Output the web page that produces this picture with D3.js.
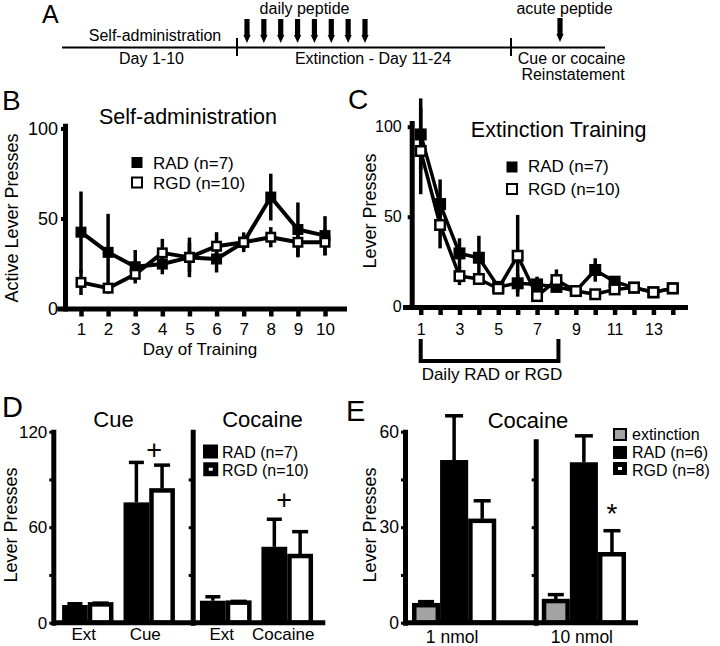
<!DOCTYPE html>
<html><head><meta charset="utf-8">
<script src="https://cdn.jsdelivr.net/npm/d3@7"></script>
<style>
body{margin:0;background:#fff;}
svg text{font-family:"Liberation Sans",Arial,sans-serif;fill:#000;}
</style></head><body>
<svg id="fig" width="720" height="646"></svg>
<script>
// ================= DATA =================
// Panel A (timeline)
const aDailyPeptideDays = [11, 12, 13, 14, 15, 16, 17, 18];
const aPhaseBounds = [0, 10, 24, 28];
const aTopTexts = ["Self-administration", "daily peptide", "acute peptide"];
const aBottomTexts = ["Day 1-10", "Extinction - Day 11-24", "Cue or cocaine", "Reinstatement"];

// Panel B (self-administration)
const bDays = [1, 2, 3, 4, 5, 6, 7, 8, 9, 10];
const bRAD = [42.4, 31.2, 23.2, 24.7, 28.4, 27.5, 36.8, 61.9, 43.9, 40.5];
const bRADsem = [22.6, 21.4, 9.3, 5.7, 8, 7.5, 4, 13, 15, 10.8];
const bRGD = [14.5, 11.3, 19, 30.9, 28.4, 34.6, 36.8, 39.6, 36.8, 36.8];
const bRGDsem = [7, 3, 3, 7.8, 11, 7.8, 5.5, 5.6, 8.4, 7.4];
const bYTicks = [0, 50, 100];

// Panel C (extinction)
const cDays = [1, 2, 3, 4, 5, 6, 7, 8, 9, 10, 11, 12, 13, 14];
const cRAD = [95.7, 57, 29.6, 27.2, 11, 13, 12.4, 11, 8.7, 20.4, 13.9, 10.6, 8, 10.2];
const cRADsem = [20, 13.7, 8.4, 12.2, 2, 5, 4.3, 2, 1.5, 6.5, 2, 1.5, 1.5, 2.5];
const cRGD = [86.5, 45.4, 17, 15.4, 10, 28.3, 5.9, 14.8, 8.7, 6.9, 9.6, 10.6, 8, 10.2];
const cRGDsem = [24, 13, 5, 3, 2, 22.7, 3, 5.9, 2, 2, 2, 2, 2, 3];
const cYTicks = [0, 50, 100];
const cTreatDays = [1, 8];

// Panel D (reinstatement)
const dPanels = ["Cue", "Cocaine"];
const dCueGroups = ["Ext", "Cue"];
const dCocGroups = ["Ext", "Cocaine"];
const dCueRAD = [11.1, 75.6], dCueRADsem = [0.8, 25.1];
const dCueRGD = [11.5, 83.1], dCueRGDsem = [0.8, 15.9];
const dCocRAD = [13.8, 47.7], dCocRADsem = [2.5, 17.3];
const dCocRGD = [12.6, 41.9], dCocRGDsem = [0.8, 15.3];
const dYTicks = [0, 30, 60, 90, 120];
const dYLabels = [0, 60, 120];
const dLegend = ["RAD (n=7)", "RGD (n=10)"];

// Panel E (acute peptide, cocaine)
const eGroups = ["1 nmol", "10 nmol"];
const eExt = [5.5, 6.8], eExtSem = [0.8, 1.7];
const eRAD = [51.1, 50.4], eRADsem = [13.9, 8.3];
const eRGD = [32, 21.5], eRGDsem = [6.3, 7.4];
const eYTicks = [0, 15, 30, 45, 60];
const eYLabels = [0, 30, 60];
const eLegend = ["extinction", "RAD (n=6)", "RGD (n=8)"];

const lineLegend = ["RAD (n=7)", "RGD (n=10)"];

// ================= DRAWING =================
const FONT = '"Liberation Sans", Arial, sans-serif';
const svg = d3.select("#fig");

function txt(g, s, x, y, size, anchor) {
  return g.append("text").attr("x", x).attr("y", y).attr("font-size", size)
    .attr("text-anchor", anchor || "start").text(s);
}
function styleAxis(sel, fs, dw, tw) {
  sel.attr("font-family", FONT).attr("font-size", fs);
  sel.select(".domain").attr("stroke", "#000").attr("stroke-width", dw).attr("stroke-linecap", "square");
  sel.selectAll(".tick line").attr("stroke", "#000").attr("stroke-width", tw);
  sel.selectAll(".tick text").attr("fill", "#000");
}
function vlabel(g, s, x, y, size) {
  g.append("text").attr("transform", `translate(${x},${y}) rotate(-90)`)
    .attr("font-size", size).attr("text-anchor", "middle").text(s);
}

// ---------- Panel A ----------
{
  const g = svg.append("g");
  const xA = d3.scaleLinear().domain(aPhaseBounds).range([62, 237, 511, 605]);
  g.append("line").attr("x1", xA(0)).attr("x2", xA(28)).attr("y1", 47.5).attr("y2", 47.5)
    .attr("stroke", "#000").attr("stroke-width", 2);
  g.selectAll(".pb").data(aPhaseBounds.slice(1, 3)).join("line")
    .attr("x1", d => xA(d)).attr("x2", d => xA(d)).attr("y1", 38).attr("y2", 56)
    .attr("stroke", "#000").attr("stroke-width", 2);
  const arrow = (x, y0, y1) => `M${x-2.6},${y0}L${x+2.6},${y0}L${x+2.6},${y1-8}L${x+3.6},${y1-8}L${x},${y1}L${x-3.6},${y1-8}L${x-2.6},${y1-8}Z`;
  const xArr = d3.scalePoint().domain(aDailyPeptideDays).range([247, 365]);
  g.selectAll(".arr").data(aDailyPeptideDays).join("path")
    .attr("d", d => arrow(xArr(d), 19, 43)).attr("fill", "#000");
  g.append("path").attr("d", arrow(560, 18, 42)).attr("fill", "#000");
  txt(g, "A", 42, 23, 25);
  txt(g, aTopTexts[0], 155, 40.5, 16, "middle");
  txt(g, aTopTexts[1], 304.5, 14, 16, "middle");
  txt(g, aTopTexts[2], 564.5, 14, 16, "middle");
  txt(g, aBottomTexts[0], 151.5, 63.5, 16, "middle");
  txt(g, aBottomTexts[1], 373, 63.5, 16, "middle");
  txt(g, aBottomTexts[2], 571.5, 63.5, 16, "middle");
  txt(g, aBottomTexts[3], 573, 79.5, 16, "middle");
}

function linePanel(g, x, y, days, series, lw, ms) {
  const line = d3.line().x((d, i) => x(days[i])).y(d => y(d));
  series.forEach(s => {
    g.append("path").datum(s.vals).attr("d", line).attr("fill", "none")
      .attr("stroke", "#000").attr("stroke-width", lw).attr("stroke-linejoin", "round");
  });
  series.forEach(s => {
    g.selectAll(null).data(s.vals).join("line")
      .attr("x1", (d, i) => x(days[i])).attr("x2", (d, i) => x(days[i]))
      .attr("y1", (d, i) => y(d - s.sem[i])).attr("y2", (d, i) => y(d + s.sem[i]))
      .attr("stroke", "#000").attr("stroke-width", 3.5);
  });
  series.forEach(s => {
    const sz = s.fill === "#000" ? ms : ms - 2.5;
    g.selectAll(null).data(s.vals).join("rect")
      .attr("x", (d, i) => x(days[i]) - sz / 2).attr("y", d => y(d) - sz / 2)
      .attr("width", sz).attr("height", sz)
      .attr("fill", s.fill).attr("stroke", "#000").attr("stroke-width", s.fill === "#000" ? 0 : 2.5);
  });
}
function lineLegendDraw(g, x, ys, tx, tys) {
  g.append("rect").attr("x", x - 5.5).attr("y", ys[0] - 5.5).attr("width", 11).attr("height", 11).attr("fill", "#000");
  g.append("rect").attr("x", x - 5).attr("y", ys[1] - 5).attr("width", 10).attr("height", 10)
    .attr("fill", "#fff").attr("stroke", "#000").attr("stroke-width", 2);
  txt(g, lineLegend[0], tx, tys[0], 17);
  txt(g, lineLegend[1], tx, tys[1], 17);
}

// ---------- Panel B ----------
{
  const g = svg.append("g");
  const x = d3.scaleLinear().domain([0.2, 10.7]).range([59.3, 344]);
  const y = d3.scaleLinear().domain([0, 101.5]).range([308.5, 125.8]);
  linePanel(g, x, y, bDays, [
    { vals: bRAD, sem: bRADsem, fill: "#000" },
    { vals: bRGD, sem: bRGDsem, fill: "#fff" }], 4, 11);
  const ax = g.append("g").attr("transform", "translate(0,308.5)")
    .call(d3.axisBottom(x).tickValues(bDays).tickSize(8).tickPadding(6.5).tickSizeOuter(0));
  styleAxis(ax, 17, 5, 4.5);
  const ay = g.append("g").attr("transform", "translate(65,0)")
    .call(d3.axisLeft(y).tickValues(bYTicks).tickSize(4).tickPadding(3).tickSizeOuter(0));
  styleAxis(ay, 18, 5, 4);
  txt(g, "B", 2, 110, 28);
  txt(g, "Self-administration", 188, 124, 21.5, "middle");
  txt(g, "Day of Training", 200, 355, 17, "middle");
  vlabel(g, "Active Lever Presses", 18, 218, 18);
  lineLegendDraw(g, 137, [162.5, 182.5], 153, [169, 189]);
}

// ---------- Panel C ----------
{
  const g = svg.append("g");
  const x = d3.scaleLinear().domain([0.19, 14.63]).range([405, 685]);
  const y = d3.scaleLinear().domain([0, 102]).range([306.7, 123.1]);
  linePanel(g, x, y, cDays, [
    { vals: cRAD, sem: cRADsem, fill: "#000" },
    { vals: cRGD, sem: cRGDsem, fill: "#fff" }], 3.5, 12);
  const ax = g.append("g").attr("transform", "translate(0,307)")
    .call(d3.axisBottom(x).tickValues(cDays).tickFormat(d => d % 2 ? d : "")
      .tickSize(8).tickPadding(8.5).tickSizeOuter(0));
  styleAxis(ax, 16, 5, 4.5);
  const ay = g.append("g").attr("transform", "translate(411.7,0)")
    .call(d3.axisLeft(y).tickValues(cYTicks).tickSize(4).tickPadding(6).tickSizeOuter(0));
  styleAxis(ay, 16, 5, 4);
  txt(g, "C", 348, 109, 28);
  txt(g, "Extinction Training", 558.7, 136.7, 21.5, "middle");
  vlabel(g, "Lever Presses", 375.5, 211, 18);
  lineLegendDraw(g, 512, [167, 189], 528, [172, 195]);
  // treatment bracket
  const bx0 = x(cTreatDays[0]), bx1 = x(cTreatDays[1]) + 2;
  g.append("path").attr("d", `M${bx0},339V361H${bx1}V339`).attr("fill", "none")
    .attr("stroke", "#000").attr("stroke-width", 4).attr("stroke-linejoin", "miter");
  txt(g, "Daily RAD or RGD", 492, 380, 17, "middle");
}

// ---------- bar helpers ----------
function errBar(g, cx, y0, y1, cap) {
  g.append("line").attr("x1", cx).attr("x2", cx).attr("y1", y0).attr("y2", y1)
    .attr("stroke", "#000").attr("stroke-width", 3.5);
  g.append("line").attr("x1", cx - cap / 2).attr("x2", cx + cap / 2).attr("y1", y1).attr("y2", y1)
    .attr("stroke", "#000").attr("stroke-width", 3.5);
}
function bar(g, x0, w, y, v, fill, outlined) {
  const sw = 4.5;
  if (outlined) {
    g.append("rect").attr("x", x0 + sw / 2).attr("width", w - sw).attr("y", y(v))
      .attr("height", y(0) - y(v)).attr("fill", fill).attr("stroke", "#000").attr("stroke-width", sw);
  } else {
    g.append("rect").attr("x", x0).attr("width", w).attr("y", y(v))
      .attr("height", y(0) - y(v)).attr("fill", fill);
  }
}

// ---------- Panel D ----------
{
  const g = svg.append("g");
  const y = d3.scaleLinear().domain([0, 120]).range([622.7, 431.7]);
  const subs = [
    { groups: dCueGroups, rad: dCueRAD, radS: dCueRADsem, rgd: dCueRGD, rgdS: dCueRGDsem,
      xs: d3.scaleBand().domain(dCueGroups).range([53.3, 183.7]).paddingInner(0.164).paddingOuter(0.143), ax: 53.3 },
    { groups: dCocGroups, rad: dCocRAD, radS: dCocRADsem, rgd: dCocRGD, rgdS: dCocRGDsem,
      xs: d3.scaleBand().domain(dCocGroups).range([192.7, 320.3]).paddingInner(0.16).paddingOuter(0.118), ax: 192.7 }
  ];
  subs.forEach((s, si) => {
    const inner = d3.scaleBand().domain(["RAD", "RGD"]).range([0, s.xs.bandwidth()]);
    s.groups.forEach((grp, i) => {
      const gx = s.xs(grp);
      bar(g, gx + inner("RAD"), inner.bandwidth(), y, s.rad[i], "#000", false);
      bar(g, gx + inner("RGD"), inner.bandwidth(), y, s.rgd[i], "#fff", true);
      errBar(g, gx + inner("RAD") + inner.bandwidth() / 2, y(s.rad[i]), y(s.rad[i] + s.radS[i]), 15);
      errBar(g, gx + inner("RGD") + inner.bandwidth() / 2, y(s.rgd[i]) - 2, y(s.rgd[i] + s.rgdS[i]), 16);
      txt(g, grp, gx + s.xs.bandwidth() / 2 - 4, 640, 17, "middle");
    });
    txt(g, dPanels[si], (s.xs.range()[0] + s.xs.range()[1]) / 2 + (si ? 6 : -5), 426.7, 22, "middle");
    const axl = g.append("g").attr("transform", `translate(${s.ax},0)`)
      .call(d3.axisLeft(y).tickValues(si ? dYTicks.slice(1, 4) : dYTicks)
        .tickFormat(d => (si === 0 && dYLabels.includes(d)) ? d : "")
        .tickSize(4).tickPadding(2).tickSizeOuter(0));
    styleAxis(axl, 17, 5, 3);
  });
  // x axis baseline
  g.append("line").attr("x1", 53.3).attr("x2", subs[1].xs.range()[1] + 5).attr("y1", y(0)).attr("y2", y(0))
    .attr("stroke", "#000").attr("stroke-width", 5);
  // significance marks
  const s0 = subs[0], s1 = subs[1];
  txt(g, "+", s0.xs("Cue") + s0.xs.bandwidth() / 2 + 5, y(109) + 9.5, 27, "middle");
  txt(g, "+", s1.xs("Cocaine") + s1.xs.bandwidth() / 2 - 3, y(77.7) + 9.5, 27, "middle");
  // legend
  g.append("rect").attr("x", 203).attr("y", 444.5).attr("width", 15).attr("height", 14).attr("fill", "#000");
  g.append("rect").attr("x", 206).attr("y", 465).attr("width", 9.5).attr("height", 8.5)
    .attr("fill", "#fff").attr("stroke", "#000").attr("stroke-width", 5.5);
  txt(g, dLegend[0], 222, 457.5, 16);
  txt(g, dLegend[1], 222, 475.5, 16);
  txt(g, "D", 2, 417, 29);
  vlabel(g, "Lever Presses", 17, 525, 18);
}

// ---------- Panel E ----------
{
  const g = svg.append("g");
  const y = d3.scaleLinear().domain([0, 60]).range([622.7, 431.7]);
  const xs = d3.scaleBand().domain(eGroups).range([405, 633]).paddingInner(0.351).paddingOuter(0.054);
  const inner = d3.scaleBand().domain(["ext", "RAD", "RGD"]).range([0, xs.bandwidth()]);
  eGroups.forEach((grp, i) => {
    const gx = xs(grp), bw = inner.bandwidth();
    bar(g, gx + inner("ext"), bw, y, eExt[i], "#a3a3a3", true);
    bar(g, gx + inner("RAD"), bw, y, eRAD[i], "#000", false);
    bar(g, gx + inner("RGD"), bw, y, eRGD[i], "#fff", true);
    errBar(g, gx + inner("ext") + bw / 2, y(eExt[i]) - 2, y(eExt[i] + eExtSem[i]) - 1, 16);
    errBar(g, gx + inner("RAD") + bw / 2, y(eRAD[i]), y(eRAD[i] + eRADsem[i]), 18);
    errBar(g, gx + inner("RGD") + bw / 2, y(eRGD[i]) - 2, y(eRGD[i] + eRGDsem[i]), 17);
    txt(g, grp, gx + bw * 1.5 - 2, 643, 17.5, "middle");
  });
  const axl = g.append("g").attr("transform", "translate(405,0)")
    .call(d3.axisLeft(y).tickValues(eYTicks).tickFormat(d => eYLabels.includes(d) ? d : "")
      .tickSize(4).tickPadding(2).tickSizeOuter(0));
  styleAxis(axl, 17.5, 5, 3);
  const y2 = d3.scaleLinear().domain([0, 57]).range([622.7, y(57)]);
  const axr = g.append("g").attr("transform", "translate(535.7,0)")
    .call(d3.axisLeft(y2).tickValues(eYTicks.slice(1, 4)).tickFormat("").tickSize(4).tickSizeOuter(0));
  styleAxis(axr, 17, 5, 3);
  g.append("line").attr("x1", 405).attr("x2", 638).attr("y1", y(0)).attr("y2", y(0))
    .attr("stroke", "#000").attr("stroke-width", 5);
  // significance
  txt(g, "*", xs("10 nmol") + inner("RGD") + inner.bandwidth() / 2, y(36) + 15, 28, "middle");
  // legend
  g.append("rect").attr("x", 614).attr("y", 429).attr("width", 12).attr("height", 11)
    .attr("fill", "#a3a3a3").attr("stroke", "#000").attr("stroke-width", 2);
  g.append("rect").attr("x", 613).attr("y", 446).attr("width", 14).attr("height", 13).attr("fill", "#000");
  g.append("rect").attr("x", 615.5).attr("y", 464.5).attr("width", 9).attr("height", 8)
    .attr("fill", "#fff").attr("stroke", "#000").attr("stroke-width", 5);
  txt(g, eLegend[0], 632, 440, 16);
  txt(g, eLegend[1], 632, 458, 16);
  txt(g, eLegend[2], 632, 476, 16);
  txt(g, "Cocaine", 528, 428, 22, "middle");
  txt(g, "E", 346, 421, 29);
  vlabel(g, "Lever Presses", 376, 525, 18);
}
</script>
</body></html>
